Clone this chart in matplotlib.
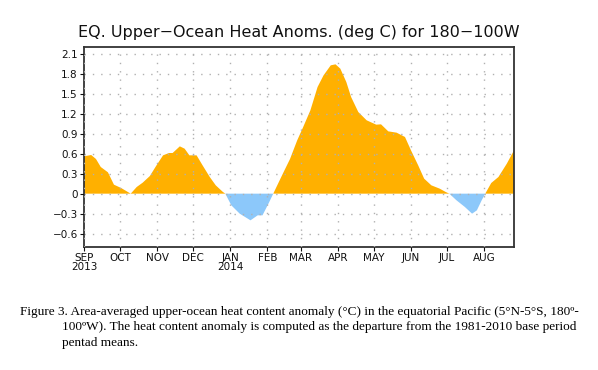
import matplotlib
matplotlib.use("Agg")
import matplotlib.pyplot as plt
import numpy as np
import pandas as pd

# --- data ---
dates = ["2013-09-01", "2013-09-07", "2013-09-11", "2013-09-15", "2013-09-21", "2013-09-26",
         "2013-10-02", "2013-10-10", "2013-10-15", "2013-10-20", "2013-10-26", "2013-10-31",
         "2013-11-06", "2013-11-11", "2013-11-14", "2013-11-20", "2013-11-24", "2013-11-28",
         "2013-12-04", "2013-12-09", "2013-12-15", "2013-12-20", "2013-12-26", "2013-12-28",
         "2014-01-02", "2014-01-09", "2014-01-18", "2014-01-24", "2014-01-28", "2014-02-02",
         "2014-02-06", "2014-02-14", "2014-02-20", "2014-02-26", "2014-03-03", "2014-03-09",
         "2014-03-15", "2014-03-20", "2014-03-26", "2014-03-30", "2014-04-03", "2014-04-08",
         "2014-04-12", "2014-04-18", "2014-04-25", "2014-05-03", "2014-05-07", "2014-05-13",
         "2014-05-20", "2014-05-27", "2014-06-01", "2014-06-07", "2014-06-12", "2014-06-18",
         "2014-06-25", "2014-06-30", "2014-07-03", "2014-07-09", "2014-07-16", "2014-07-22",
         "2014-07-26", "2014-07-30", "2014-08-02", "2014-08-07", "2014-08-13", "2014-08-20",
         "2014-08-26"]
anomaly = [0.56, 0.58, 0.52, 0.40, 0.32, 0.135,
           0.085, 0.0, 0.10, 0.165, 0.265, 0.41,
           0.575, 0.61, 0.61, 0.71, 0.675, 0.575,
           0.575, 0.425, 0.25, 0.125, 0.025, 0.0,
           -0.175, -0.30, -0.40, -0.325, -0.325, -0.15,
           0.0, 0.30, 0.52, 0.80, 1.0, 1.25,
           1.60, 1.775, 1.925, 1.94, 1.875, 1.675,
           1.45, 1.225, 1.10, 1.035, 1.04, 0.935,
           0.915, 0.85, 0.65, 0.425, 0.225, 0.125,
           0.075, 0.025, 0.0, -0.10, -0.20, -0.30,
           -0.25, -0.10, 0.0, 0.16, 0.25, 0.45,
           0.65]
yticks = [-0.6, -0.3, 0, 0.3, 0.6, 0.9, 1.2, 1.5, 1.8, 2.1]
ytick_labels = ["\u22120.6", "\u22120.3", "0", "0.3", "0.6", "0.9", "1.2", "1.5", "1.8", "2.1"]
month_ticks = ["2013-09-01", "2013-10-01", "2013-11-01", "2013-12-01", "2014-01-01", "2014-02-01",
               "2014-03-01", "2014-04-01", "2014-05-01", "2014-06-01", "2014-07-01", "2014-08-01"]
month_labels = ["SEP\n2013", "OCT", "NOV", "DEC", "JAN\n2014", "FEB", "MAR", "APR", "MAY",
                "JUN", "JUL", "AUG"]
title = "EQ. Upper\u2212Ocean Heat Anoms. (deg C) for 180\u2212100W"
caption1 = ("Figure 3. Area-averaged upper-ocean heat content anomaly (\u00b0C) in the equatorial "
            "Pacific (5\u00b0N-5\u00b0S, 180\u00ba-")
caption2 = "100\u00baW). The heat content anomaly is computed as the departure from the 1981-2010 base period"
caption3 = "pentad means."

x = pd.to_datetime(dates)
y = np.array(anomaly)

fig = plt.figure(figsize=(5.98, 3.70), dpi=100)
ax = fig.add_axes([84/598, 1-247/370, 430/598, 200/370])

ax.fill_between(x, 0, y, where=y >= 0, interpolate=True, color="#FFB000", linewidth=0)
ax.fill_between(x, 0, y, where=y <= 0, interpolate=True, color="#8CC8FA", linewidth=0)

ax.set_ylim(-0.8, 2.2)
ax.set_xlim(pd.Timestamp("2013-09-01"), pd.Timestamp("2014-08-26"))
ax.set_yticks(yticks)
ax.set_yticklabels(ytick_labels)
ax.set_xticks(pd.to_datetime(month_ticks))
ax.set_xticklabels(month_labels, linespacing=0.85)
ax.tick_params(axis="both", labelsize=7.5, colors="#111111", length=3, width=0.8, pad=1.5)
ax.grid(True, linestyle=(0, (1, 5)), color="#B0B0B0", linewidth=1.0)
ax.set_axisbelow(False)
for s in ax.spines.values():
    s.set_linewidth(1.3)
    s.set_color("#333333")

fig.text(0.5, 1-32/370, title, ha="center", va="center", fontsize=11.5, color="#111111")

fig.text(20/598, 1-312/370, caption1, fontsize=9.5, family="Liberation Serif", va="center")
fig.text(62/598, 1-327/370, caption2, fontsize=9.5, family="Liberation Serif", va="center")
fig.text(62/598, 1-343/370, caption3, fontsize=9.5, family="Liberation Serif", va="center")

fig.savefig("out.png", dpi=100)
